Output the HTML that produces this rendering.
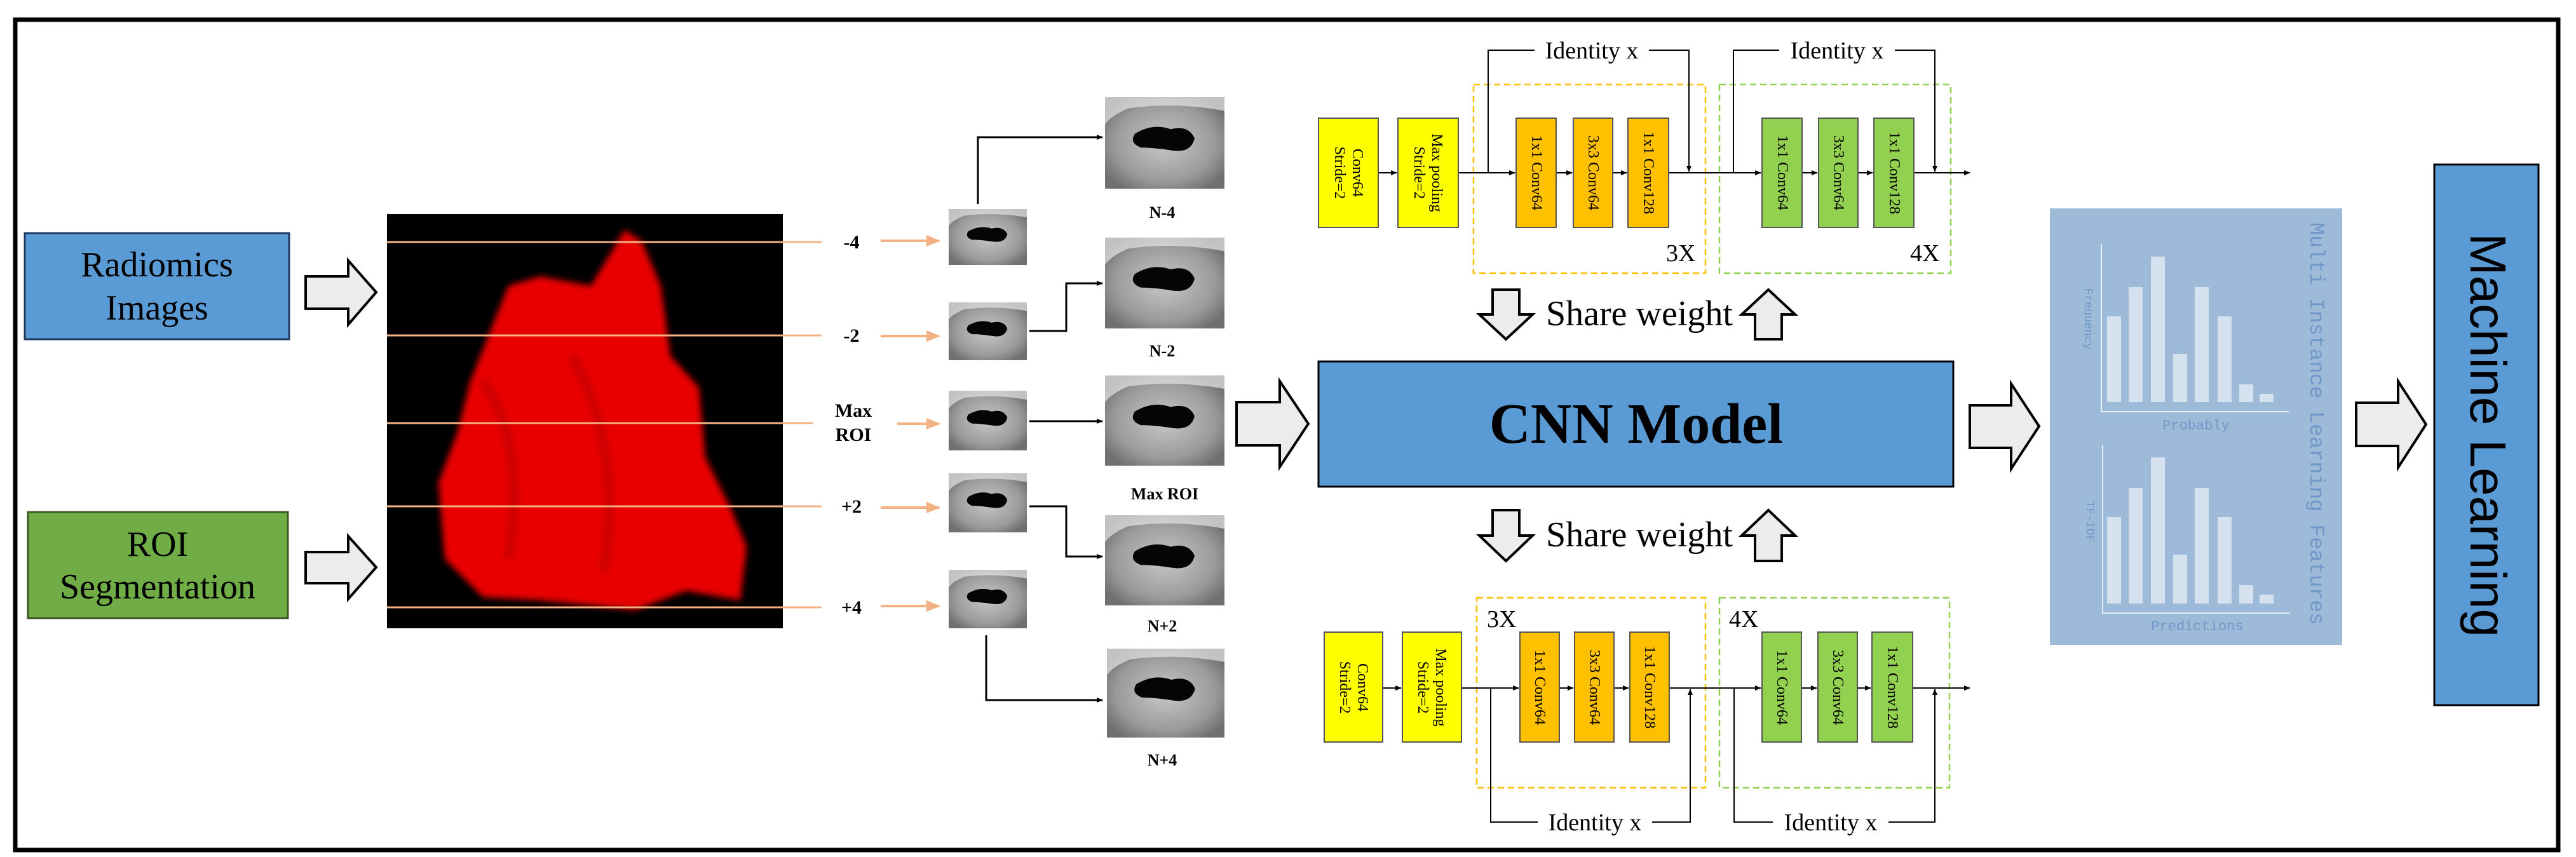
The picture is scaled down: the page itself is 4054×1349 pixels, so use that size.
<!DOCTYPE html>
<html><head><meta charset="utf-8"><style>
html,body{margin:0;padding:0;background:#fff}
svg{display:block}
</style></head><body>
<svg width="4054" height="1349" viewBox="0 0 4054 1349" xmlns="http://www.w3.org/2000/svg" font-family="Liberation Serif, serif">
<defs>
<marker id="ah" markerWidth="10" markerHeight="10" refX="9" refY="5" orient="auto" markerUnits="userSpaceOnUse"><path d="M0,1 L10,5 L0,9 Z" fill="#000"/></marker>
<marker id="ao" markerWidth="22" markerHeight="22" refX="20" refY="11" orient="auto" markerUnits="userSpaceOnUse"><path d="M0,2 L22,11 L0,20 Z" fill="#f4b183"/></marker>
<filter id="bl"><feGaussianBlur stdDeviation="5"/></filter>
<radialGradient id="tg" cx="0.5" cy="0.5" r="0.6"><stop offset="0" stop-color="#c8c8c8"/><stop offset="0.7" stop-color="#9a9a9a"/><stop offset="1" stop-color="#707070"/></radialGradient>
<g id="th"><rect width="100" height="100" fill="url(#tg)"/><path d="M25,40 Q40,28 55,35 Q70,30 75,45 Q72,62 55,58 Q40,55 30,55 Q20,50 25,40 Z" fill="#050505"/><path d="M0,0 H100 V15 Q60,5 20,12 Q5,20 0,30 Z" fill="#e6e6e6" opacity="0.7"/></g>
</defs>
<rect x="24" y="31" width="4002" height="1307" fill="#fff" stroke="#000" stroke-width="7"/>

<rect x="39" y="367" width="416" height="167" fill="#5b9bd5" stroke="#1f3864" stroke-width="3"/>
<text font-family="Liberation Serif, serif" x="247" y="435" font-size="56" text-anchor="middle">Radiomics</text>
<text font-family="Liberation Serif, serif" x="247" y="503" font-size="56" text-anchor="middle">Images</text>
<rect x="44" y="806" width="409" height="167" fill="#70ad47" stroke="#385723" stroke-width="3"/>
<text font-family="Liberation Serif, serif" x="248" y="875" font-size="56" text-anchor="middle">ROI</text>
<text font-family="Liberation Serif, serif" x="248" y="942" font-size="56" text-anchor="middle">Segmentation</text>

<g fill="#ececec" stroke="#000" stroke-width="4" stroke-linejoin="miter">
<polygon points="481,435 548,435 548,410 592,460 548,511 548,486 481,486"/>
<polygon points="481,869 548,869 548,844 592,893 548,943 548,918 481,918"/>
<polygon points="1946,633 2014,633 2014,600 2059,667 2014,735 2014,701 1946,701"/>
<polygon points="3100,638 3165,638 3165,604 3209,671 3165,738 3165,705 3100,705"/>
<polygon points="3708,634 3774,634 3774,600 3818,668 3774,736 3774,702 3708,702"/>
<polygon points="2349,456 2391,456 2391,495 2412,495 2370,534 2328,495 2349,495"/>
<polygon points="2762,534 2804,534 2804,495 2825,495 2783,456 2741,495 2762,495"/>
<polygon points="2349,803 2391,803 2391,843 2412,843 2370,883 2328,843 2349,843"/>
<polygon points="2762,883 2804,883 2804,843 2825,843 2783,803 2741,843 2762,843"/>
</g>

<rect x="609" y="337" width="623" height="652" fill="#000"/>
<path d="M983,362 L1010,380 L1040,450 L1055,560 L1100,610 L1110,720 L1150,800 L1175,860 L1165,945 L1080,930 L1000,960 L850,945 L760,940 L700,880 L690,760 L720,680 L740,600 L800,450 L850,435 L930,450 Z" fill="#e80000" filter="url(#bl)"/>
<path d="M760,600 Q830,700 800,880 M900,560 Q980,700 950,900" stroke="#b00000" stroke-width="14" fill="none" opacity="0.5" filter="url(#bl)"/>
<g stroke="#f4b183" stroke-width="3">
<line x1="609" y1="381" x2="1293" y2="381"/><line x1="609" y1="528" x2="1293" y2="528"/>
<line x1="609" y1="666" x2="1280" y2="666"/><line x1="609" y1="797" x2="1293" y2="797"/>
<line x1="609" y1="956" x2="1293" y2="956"/>
</g>
<g font-size="30" font-weight="bold" text-anchor="middle">
<text x="1340" y="391">-4</text><text x="1340" y="538">-2</text>
<text x="1343" y="656">Max</text><text x="1343" y="694">ROI</text>
<text x="1340" y="807">+2</text><text x="1340" y="966">+4</text>
</g>
<g stroke="#f4b183" stroke-width="4" marker-end="url(#ao)">
<line x1="1386" y1="379" x2="1478" y2="379"/><line x1="1386" y1="529" x2="1478" y2="529"/>
<line x1="1412" y1="667" x2="1478" y2="667"/><line x1="1386" y1="799" x2="1478" y2="799"/>
<line x1="1386" y1="954" x2="1478" y2="954"/>
</g>
<use href="#th" transform="translate(1493,329) scale(1.23,0.88)"/>
<use href="#th" transform="translate(1493,476) scale(1.23,0.91)"/>
<use href="#th" transform="translate(1493,615) scale(1.23,0.94)"/>
<use href="#th" transform="translate(1493,745) scale(1.23,0.93)"/>
<use href="#th" transform="translate(1493,897) scale(1.23,0.92)"/>
<use href="#th" transform="translate(1739,153) scale(1.88,1.44)"/>
<use href="#th" transform="translate(1739,374) scale(1.88,1.43)"/>
<use href="#th" transform="translate(1739,591) scale(1.88,1.42)"/>
<use href="#th" transform="translate(1739,811) scale(1.88,1.42)"/>
<use href="#th" transform="translate(1742,1021) scale(1.85,1.40)"/>
<g font-size="26" font-weight="bold" text-anchor="middle">
<text x="1829" y="343">N-4</text><text x="1829" y="561">N-2</text><text x="1833" y="786">Max ROI</text>
<text x="1829" y="994">N+2</text><text x="1829" y="1205">N+4</text>
</g>
<g fill="none" stroke="#000" stroke-width="3" marker-end="url(#ah)">
<polyline points="1539,321 1539,216 1735,216"/>
<polyline points="1620,521 1678,521 1678,446 1735,446"/>
<polyline points="1620,663 1735,663"/>
<polyline points="1620,797 1678,797 1678,876 1735,876"/>
<polyline points="1552,1000 1552,1102 1735,1102"/>
</g>

<rect x="2075" y="569" width="999" height="197" fill="#5b9bd5" stroke="#000" stroke-width="3"/>
<text x="2575" y="697" font-size="90" font-weight="bold" text-anchor="middle">CNN Model</text>
<text x="2580" y="512" font-size="56" text-anchor="middle">Share weight</text>
<text x="2580" y="860" font-size="56" text-anchor="middle">Share weight</text>

<g fill="none" stroke-dasharray="10,6" stroke-width="2.5">
<rect x="2319" y="133" width="365" height="297" stroke="#ffc000"/>
<rect x="2706" y="133" width="364" height="297" stroke="#92d050"/>
<rect x="2324" y="941" width="360" height="299" stroke="#ffc000"/>
<rect x="2706" y="941" width="362" height="299" stroke="#92d050"/>
</g>
<g font-size="38"><text x="2622" y="411">3X</text><text x="3006" y="411">4X</text>
<text x="2340" y="987">3X</text><text x="2721" y="987">4X</text></g>
<g stroke="#000" stroke-width="2" fill="none">
<line x1="2169" y1="272" x2="2198" y2="272" marker-end="url(#ah)"/>
<line x1="2295" y1="272" x2="2384" y2="272" marker-end="url(#ah)"/>
<line x1="2449" y1="272" x2="2474" y2="272" marker-end="url(#ah)"/>
<line x1="2538" y1="272" x2="2560" y2="272" marker-end="url(#ah)"/>
<line x1="2626" y1="272" x2="2771" y2="272" marker-end="url(#ah)"/>
<line x1="2836" y1="272" x2="2860" y2="272" marker-end="url(#ah)"/>
<line x1="2924" y1="272" x2="2947" y2="272" marker-end="url(#ah)"/>
<line x1="3012" y1="272" x2="3100" y2="272" marker-end="url(#ah)"/>
<polyline points="2342,272 2342,79 2415,79"/><polyline points="2595,79 2658,79 2658,270" marker-end="url(#ah)"/>
<polyline points="2728,272 2728,79 2800,79"/><polyline points="2982,79 3045,79 3045,270" marker-end="url(#ah)"/>
<line x1="2176" y1="1083" x2="2205" y2="1083" marker-end="url(#ah)"/>
<line x1="2300" y1="1083" x2="2390" y2="1083" marker-end="url(#ah)"/>
<line x1="2454" y1="1083" x2="2476" y2="1083" marker-end="url(#ah)"/>
<line x1="2540" y1="1083" x2="2563" y2="1083" marker-end="url(#ah)"/>
<line x1="2627" y1="1083" x2="2771" y2="1083" marker-end="url(#ah)"/>
<line x1="2835" y1="1083" x2="2859" y2="1083" marker-end="url(#ah)"/>
<line x1="2923" y1="1083" x2="2944" y2="1083" marker-end="url(#ah)"/>
<line x1="3010" y1="1083" x2="3100" y2="1083" marker-end="url(#ah)"/>
<polyline points="2346,1083 2346,1294 2420,1294"/><polyline points="2600,1294 2660,1294 2660,1085" marker-end="url(#ah)"/>
<polyline points="2729,1083 2729,1294 2790,1294"/><polyline points="2972,1294 3045,1294 3045,1085" marker-end="url(#ah)"/>
</g>
<g font-size="38" text-anchor="middle">
<text x="2505" y="92">Identity x</text><text x="2891" y="92">Identity x</text>
<text x="2510" y="1307">Identity x</text><text x="2881" y="1307">Identity x</text>
</g>
<g stroke="#555" stroke-width="2">
<rect x="2075" y="186" width="94" height="172" fill="#ffff00"/>
<rect x="2200" y="186" width="95" height="172" fill="#ffff00"/>
<rect x="2386" y="186" width="63" height="172" fill="#ffc000"/>
<rect x="2476" y="186" width="62" height="172" fill="#ffc000"/>
<rect x="2562" y="186" width="64" height="172" fill="#ffc000"/>
<rect x="2773" y="186" width="63" height="172" fill="#92d050"/>
<rect x="2862" y="186" width="62" height="172" fill="#92d050"/>
<rect x="2949" y="186" width="63" height="172" fill="#92d050"/>
<rect x="2084" y="995" width="92" height="173" fill="#ffff00"/>
<rect x="2207" y="995" width="93" height="173" fill="#ffff00"/>
<rect x="2392" y="995" width="62" height="173" fill="#ffc000"/>
<rect x="2478" y="995" width="62" height="173" fill="#ffc000"/>
<rect x="2565" y="995" width="62" height="173" fill="#ffc000"/>
<rect x="2773" y="995" width="62" height="173" fill="#92d050"/>
<rect x="2861" y="995" width="62" height="173" fill="#92d050"/>
<rect x="2946" y="995" width="64" height="173" fill="#92d050"/>
</g>
<g font-size="24" text-anchor="middle" dominant-baseline="central">
<text transform="translate(2136,272) rotate(90)">Conv64</text><text transform="translate(2108,272) rotate(90)">Stride=2</text>
<text transform="translate(2261,272) rotate(90)">Max pooling</text><text transform="translate(2233,272) rotate(90)">Stride=2</text>
<text transform="translate(2418,272) rotate(90)">1x1 Conv64</text>
<text transform="translate(2507,272) rotate(90)">3x3 Conv64</text>
<text transform="translate(2594,272) rotate(90)">1x1 Conv128</text>
<text transform="translate(2805,272) rotate(90)">1x1 Conv64</text>
<text transform="translate(2893,272) rotate(90)">3x3 Conv64</text>
<text transform="translate(2981,272) rotate(90)">1x1 Conv128</text>
<text transform="translate(2144,1082) rotate(90)">Conv64</text><text transform="translate(2116,1082) rotate(90)">Stride=2</text>
<text transform="translate(2267,1082) rotate(90)">Max pooling</text><text transform="translate(2239,1082) rotate(90)">Stride=2</text>
<text transform="translate(2423,1082) rotate(90)">1x1 Conv64</text>
<text transform="translate(2509,1082) rotate(90)">3x3 Conv64</text>
<text transform="translate(2596,1082) rotate(90)">1x1 Conv128</text>
<text transform="translate(2804,1082) rotate(90)">1x1 Conv64</text>
<text transform="translate(2892,1082) rotate(90)">3x3 Conv64</text>
<text transform="translate(2978,1082) rotate(90)">1x1 Conv128</text>
</g>

<rect x="3226" y="328" width="460" height="687" fill="#9dbad8"/>
<g fill="#dce6f1" opacity="0.9">
<rect x="3316" y="498" width="22" height="135"/><rect x="3350" y="452" width="22" height="181"/>
<rect x="3385" y="404" width="22" height="229"/><rect x="3420" y="557" width="22" height="76"/>
<rect x="3454" y="452" width="22" height="181"/><rect x="3490" y="498" width="22" height="135"/>
<rect x="3524" y="605" width="22" height="28"/><rect x="3556" y="620" width="22" height="13"/>
<rect x="3316" y="814" width="22" height="136"/><rect x="3350" y="768" width="22" height="182"/>
<rect x="3385" y="720" width="22" height="230"/><rect x="3420" y="873" width="22" height="77"/>
<rect x="3454" y="768" width="22" height="182"/><rect x="3490" y="814" width="22" height="136"/>
<rect x="3524" y="921" width="22" height="29"/><rect x="3556" y="936" width="22" height="14"/>
</g>
<g stroke="#e8eef6" stroke-width="2" fill="none">
<polyline points="3307,384 3307,648 3602,648"/>
<polyline points="3309,701 3309,965 3604,965"/>
</g>
<g font-family="Liberation Mono, monospace" fill="#6f98c8">
<text x="3456" y="676" font-size="22" text-anchor="middle">Probably</text>
<text x="3458" y="992" font-size="22" text-anchor="middle">Predictions</text>
<text transform="translate(3281,502) rotate(90)" font-size="18" text-anchor="middle">Frequency</text>
<text transform="translate(3284,821) rotate(90)" font-size="18" text-anchor="middle">TF-IDF</text>
<text transform="translate(3636,667) rotate(90)" font-size="33" text-anchor="middle">Multi Instance Learning Features</text>
</g>

<rect x="3831" y="259" width="164" height="851" fill="#5b9bd5" stroke="#000" stroke-width="3"/>
<text transform="translate(3888,685) rotate(90)" font-family="Liberation Sans, sans-serif" font-size="80" text-anchor="middle">Machine Learning</text>
</svg>
</body></html>
